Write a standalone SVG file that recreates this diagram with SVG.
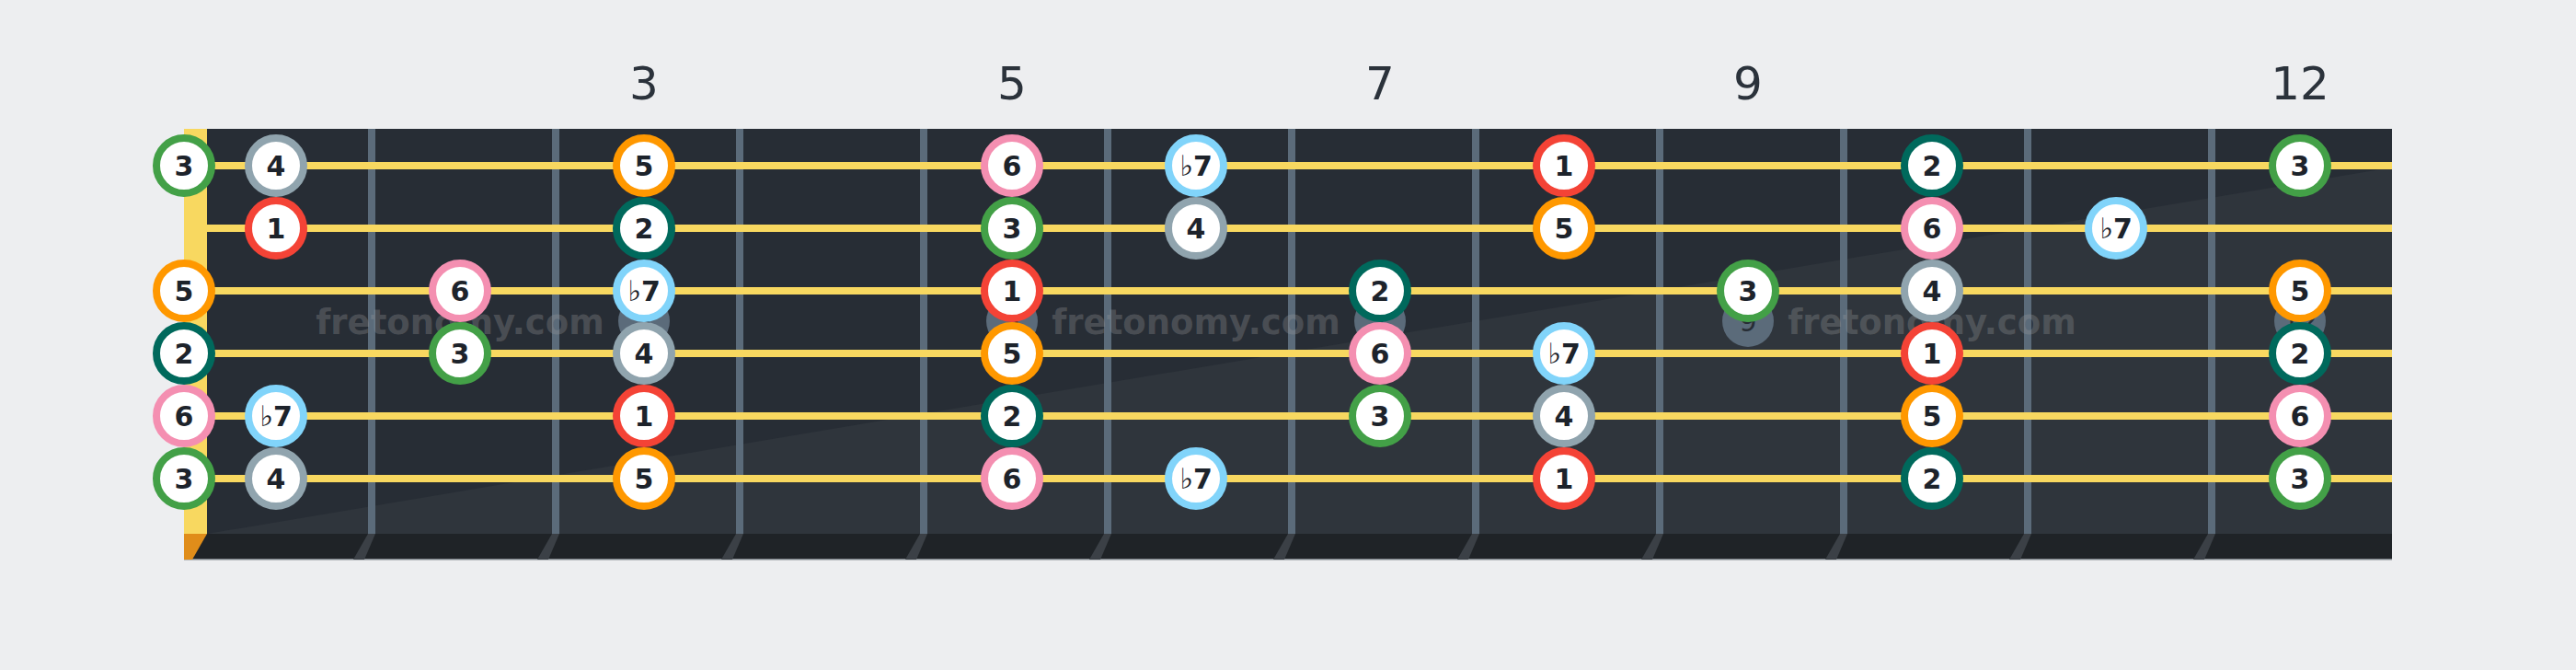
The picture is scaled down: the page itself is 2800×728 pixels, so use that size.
<svg xmlns="http://www.w3.org/2000/svg" width="2800" height="728" viewBox="0 0 2800 728">
<defs>
<style>
.bg{fill:#edeef0}
.board{fill:#272d35}
.shade{fill:#2f353c}
.strip{fill:#1f2327}
.fret{fill:#5b6b7a}
.fretfoot{fill:#3b4046}
.nut{fill:#f8d860}
.nutfoot{fill:#e08d1a}
.str{stroke:#f8d860;stroke-width:8}
.inlay{fill:#5b6b7a}
.inlaytxt{font-family:"DejaVu Sans",sans-serif;font-size:30px;fill:#272d35;text-anchor:middle}
.wm{font-family:"DejaVu Sans",sans-serif;font-weight:bold;font-size:37px;fill:#a0a0a0;fill-opacity:0.3;text-anchor:middle}
.fnum{font-family:"DejaVu Sans",sans-serif;font-size:50px;fill:#2b323b;text-anchor:middle}
.ring{fill:#ffffff;stroke-width:8}
.d1{stroke:#f44336}
.d2{stroke:#00695c}
.d3{stroke:#43a047}
.d4{stroke:#90a4ae}
.d5{stroke:#ff9800}
.d6{stroke:#f48fb1}
.d7{stroke:#81d4fa}
.lbl{font-family:"DejaVu Sans",sans-serif;font-weight:bold;font-size:30px;fill:#1d232b;text-anchor:middle}
.flat{font-weight:normal;font-size:31px}
</style>
</defs>
<rect class="bg" x="0" y="0" width="2800" height="728"/>

<g id="fret-numbers">
<text class="fnum" x="700" y="108">3</text>
<text class="fnum" x="1100" y="108">5</text>
<text class="fnum" x="1500" y="108">7</text>
<text class="fnum" x="1900" y="108">9</text>
<text class="fnum" x="2500" y="108">12</text>
</g>

<g id="fretboard">
<rect class="board" x="200" y="140" width="2400" height="440"/>
<polygon class="shade" points="225,580 2600,182 2600,580"/>
<rect class="strip" x="200" y="580" width="2400" height="28"/>
<rect x="200" y="607" width="2400" height="1.5" fill="#80868c"/>
<g id="frets">
<rect class="fret" x="400" y="140" width="8" height="440"/>
<rect class="fret" x="600" y="140" width="8" height="440"/>
<rect class="fret" x="800" y="140" width="8" height="440"/>
<rect class="fret" x="1000" y="140" width="8" height="440"/>
<rect class="fret" x="1200" y="140" width="8" height="440"/>
<rect class="fret" x="1400" y="140" width="8" height="440"/>
<rect class="fret" x="1600" y="140" width="8" height="440"/>
<rect class="fret" x="1800" y="140" width="8" height="440"/>
<rect class="fret" x="2000" y="140" width="8" height="440"/>
<rect class="fret" x="2200" y="140" width="8" height="440"/>
<rect class="fret" x="2400" y="140" width="8" height="440"/>
<polygon class="fretfoot" points="400,580 408,580 396,608 384,608"/>
<polygon class="fretfoot" points="600,580 608,580 596,608 584,608"/>
<polygon class="fretfoot" points="800,580 808,580 796,608 784,608"/>
<polygon class="fretfoot" points="1000,580 1008,580 996,608 984,608"/>
<polygon class="fretfoot" points="1200,580 1208,580 1196,608 1184,608"/>
<polygon class="fretfoot" points="1400,580 1408,580 1396,608 1384,608"/>
<polygon class="fretfoot" points="1600,580 1608,580 1596,608 1584,608"/>
<polygon class="fretfoot" points="1800,580 1808,580 1796,608 1784,608"/>
<polygon class="fretfoot" points="2000,580 2008,580 1996,608 1984,608"/>
<polygon class="fretfoot" points="2200,580 2208,580 2196,608 2184,608"/>
<polygon class="fretfoot" points="2400,580 2408,580 2396,608 2384,608"/>
</g>
<g id="inlays">
<circle class="inlay" cx="700" cy="349" r="28"/><text class="inlaytxt" x="700" y="360">3</text>
<circle class="inlay" cx="1100" cy="349" r="28"/><text class="inlaytxt" x="1100" y="360">5</text>
<circle class="inlay" cx="1500" cy="349" r="28"/><text class="inlaytxt" x="1500" y="360">7</text>
<circle class="inlay" cx="1900" cy="349" r="28"/><text class="inlaytxt" x="1900" y="360">9</text>
<circle class="inlay" cx="2500" cy="349" r="28"/><text class="inlaytxt" x="2500" y="360">12</text>
</g>
<g id="watermark">
<text class="wm" x="500" y="363">fretonomy.com</text>
<text class="wm" x="1300" y="363">fretonomy.com</text>
<text class="wm" x="2100" y="363">fretonomy.com</text>
</g>
<g id="strings">
<line class="str" x1="225" y1="180" x2="2600" y2="180"/>
<line class="str" x1="225" y1="248" x2="2600" y2="248"/>
<line class="str" x1="225" y1="316" x2="2600" y2="316"/>
<line class="str" x1="225" y1="384" x2="2600" y2="384"/>
<line class="str" x1="225" y1="452" x2="2600" y2="452"/>
<line class="str" x1="225" y1="520" x2="2600" y2="520"/>
</g>
<g id="nut">
<rect class="nut" x="200" y="140" width="25" height="440"/>
<polygon class="nutfoot" points="200,580 225,580 209,608 200,608"/>
</g>
</g>

<g id="notes">
<g id="s1-f0" transform="translate(200,180)"><circle class="ring d3" r="30"/><text class="lbl" y="11">3</text></g>
<g id="s1-f1" transform="translate(300,180)"><circle class="ring d4" r="30"/><text class="lbl" y="11">4</text></g>
<g id="s1-f3" transform="translate(700,180)"><circle class="ring d5" r="30"/><text class="lbl" y="11">5</text></g>
<g id="s1-f5" transform="translate(1100,180)"><circle class="ring d6" r="30"/><text class="lbl" y="11">6</text></g>
<g id="s1-f6" transform="translate(1300,180)"><circle class="ring d7" r="30"/><text class="lbl" y="11"><tspan class="flat">♭</tspan>7</text></g>
<g id="s1-f8" transform="translate(1700,180)"><circle class="ring d1" r="30"/><text class="lbl" y="11">1</text></g>
<g id="s1-f10" transform="translate(2100,180)"><circle class="ring d2" r="30"/><text class="lbl" y="11">2</text></g>
<g id="s1-f12" transform="translate(2500,180)"><circle class="ring d3" r="30"/><text class="lbl" y="11">3</text></g>

<g id="s2-f1" transform="translate(300,248)"><circle class="ring d1" r="30"/><text class="lbl" y="11">1</text></g>
<g id="s2-f3" transform="translate(700,248)"><circle class="ring d2" r="30"/><text class="lbl" y="11">2</text></g>
<g id="s2-f5" transform="translate(1100,248)"><circle class="ring d3" r="30"/><text class="lbl" y="11">3</text></g>
<g id="s2-f6" transform="translate(1300,248)"><circle class="ring d4" r="30"/><text class="lbl" y="11">4</text></g>
<g id="s2-f8" transform="translate(1700,248)"><circle class="ring d5" r="30"/><text class="lbl" y="11">5</text></g>
<g id="s2-f10" transform="translate(2100,248)"><circle class="ring d6" r="30"/><text class="lbl" y="11">6</text></g>
<g id="s2-f11" transform="translate(2300,248)"><circle class="ring d7" r="30"/><text class="lbl" y="11"><tspan class="flat">♭</tspan>7</text></g>

<g id="s3-f0" transform="translate(200,316)"><circle class="ring d5" r="30"/><text class="lbl" y="11">5</text></g>
<g id="s3-f2" transform="translate(500,316)"><circle class="ring d6" r="30"/><text class="lbl" y="11">6</text></g>
<g id="s3-f3" transform="translate(700,316)"><circle class="ring d7" r="30"/><text class="lbl" y="11"><tspan class="flat">♭</tspan>7</text></g>
<g id="s3-f5" transform="translate(1100,316)"><circle class="ring d1" r="30"/><text class="lbl" y="11">1</text></g>
<g id="s3-f7" transform="translate(1500,316)"><circle class="ring d2" r="30"/><text class="lbl" y="11">2</text></g>
<g id="s3-f9" transform="translate(1900,316)"><circle class="ring d3" r="30"/><text class="lbl" y="11">3</text></g>
<g id="s3-f10" transform="translate(2100,316)"><circle class="ring d4" r="30"/><text class="lbl" y="11">4</text></g>
<g id="s3-f12" transform="translate(2500,316)"><circle class="ring d5" r="30"/><text class="lbl" y="11">5</text></g>

<g id="s4-f0" transform="translate(200,384)"><circle class="ring d2" r="30"/><text class="lbl" y="11">2</text></g>
<g id="s4-f2" transform="translate(500,384)"><circle class="ring d3" r="30"/><text class="lbl" y="11">3</text></g>
<g id="s4-f3" transform="translate(700,384)"><circle class="ring d4" r="30"/><text class="lbl" y="11">4</text></g>
<g id="s4-f5" transform="translate(1100,384)"><circle class="ring d5" r="30"/><text class="lbl" y="11">5</text></g>
<g id="s4-f7" transform="translate(1500,384)"><circle class="ring d6" r="30"/><text class="lbl" y="11">6</text></g>
<g id="s4-f8" transform="translate(1700,384)"><circle class="ring d7" r="30"/><text class="lbl" y="11"><tspan class="flat">♭</tspan>7</text></g>
<g id="s4-f10" transform="translate(2100,384)"><circle class="ring d1" r="30"/><text class="lbl" y="11">1</text></g>
<g id="s4-f12" transform="translate(2500,384)"><circle class="ring d2" r="30"/><text class="lbl" y="11">2</text></g>

<g id="s5-f0" transform="translate(200,452)"><circle class="ring d6" r="30"/><text class="lbl" y="11">6</text></g>
<g id="s5-f1" transform="translate(300,452)"><circle class="ring d7" r="30"/><text class="lbl" y="11"><tspan class="flat">♭</tspan>7</text></g>
<g id="s5-f3" transform="translate(700,452)"><circle class="ring d1" r="30"/><text class="lbl" y="11">1</text></g>
<g id="s5-f5" transform="translate(1100,452)"><circle class="ring d2" r="30"/><text class="lbl" y="11">2</text></g>
<g id="s5-f7" transform="translate(1500,452)"><circle class="ring d3" r="30"/><text class="lbl" y="11">3</text></g>
<g id="s5-f8" transform="translate(1700,452)"><circle class="ring d4" r="30"/><text class="lbl" y="11">4</text></g>
<g id="s5-f10" transform="translate(2100,452)"><circle class="ring d5" r="30"/><text class="lbl" y="11">5</text></g>
<g id="s5-f12" transform="translate(2500,452)"><circle class="ring d6" r="30"/><text class="lbl" y="11">6</text></g>

<g id="s6-f0" transform="translate(200,520)"><circle class="ring d3" r="30"/><text class="lbl" y="11">3</text></g>
<g id="s6-f1" transform="translate(300,520)"><circle class="ring d4" r="30"/><text class="lbl" y="11">4</text></g>
<g id="s6-f3" transform="translate(700,520)"><circle class="ring d5" r="30"/><text class="lbl" y="11">5</text></g>
<g id="s6-f5" transform="translate(1100,520)"><circle class="ring d6" r="30"/><text class="lbl" y="11">6</text></g>
<g id="s6-f6" transform="translate(1300,520)"><circle class="ring d7" r="30"/><text class="lbl" y="11"><tspan class="flat">♭</tspan>7</text></g>
<g id="s6-f8" transform="translate(1700,520)"><circle class="ring d1" r="30"/><text class="lbl" y="11">1</text></g>
<g id="s6-f10" transform="translate(2100,520)"><circle class="ring d2" r="30"/><text class="lbl" y="11">2</text></g>
<g id="s6-f12" transform="translate(2500,520)"><circle class="ring d3" r="30"/><text class="lbl" y="11">3</text></g>
</g>
</svg>
